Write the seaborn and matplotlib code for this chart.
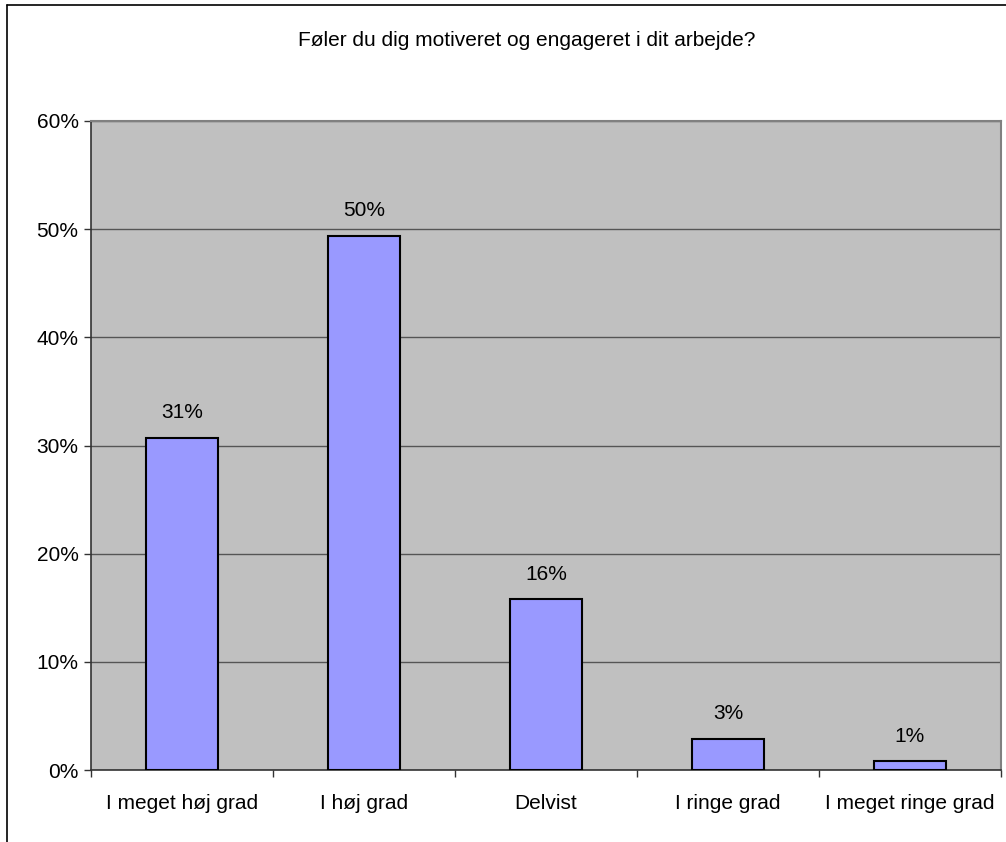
import matplotlib
matplotlib.use("Agg")
import matplotlib.pyplot as plt
import seaborn as sns
import pandas as pd
from matplotlib.ticker import PercentFormatter, FixedLocator
from matplotlib.lines import Line2D

categories = ["I meget høj grad", "I høj grad", "Delvist", "I ringe grad", "I meget ringe grad"]
values = [0.307, 0.494, 0.158, 0.029, 0.008]
labels = ["31%", "50%", "16%", "3%", "1%"]
title = "Føler du dig motiveret og engageret i dit arbejde?"

sns.set_theme(style="white")
plt.rcParams['font.family'] = ['Liberation Sans', 'DejaVu Sans']
plt.rcParams['text.color'] = 'black'
plt.rcParams['xtick.color'] = 'black'
plt.rcParams['ytick.color'] = 'black'

W, H = 1006, 842
fig = plt.figure(figsize=(W / 100, H / 100), dpi=100)
ax = fig.add_axes([91 / W, 1 - 770 / H, (1001 - 91) / W, (770 - 121) / H])
ax.set_facecolor("#C0C0C0")

df = pd.DataFrame({"cat": categories, "val": values})
sns.barplot(data=df, x="cat", y="val", color="#9999FF", saturation=1,
            edgecolor="black", linewidth=1.5, width=0.4, ax=ax, zorder=3)

ax.set_xlim(-0.5, len(categories) - 0.5)
ax.set_ylim(0, 0.6)
ax.yaxis.set_major_locator(FixedLocator([0, 0.1, 0.2, 0.3, 0.4, 0.5, 0.6]))
ax.yaxis.set_major_formatter(PercentFormatter(1.0, decimals=0))
ax.grid(axis="y", color="#555555", linewidth=1, zorder=1)
ax.set_axisbelow(True)
ax.set_xlabel("")
ax.set_ylabel("")

for s in ["top", "right"]:
    ax.spines[s].set_color("#808080")
    ax.spines[s].set_linewidth(1.5)
for s in ["left", "bottom"]:
    ax.spines[s].set_color("#333333")
    ax.spines[s].set_linewidth(1.2)

FS = 15
ax.tick_params(axis="y", direction="out", length=5, width=1, color="#333333",
               labelsize=FS, labelcolor="black", pad=4, left=True)
ax.tick_params(axis="x", length=0, labelsize=FS, labelcolor="black", pad=17)
ax.set_xticks([i - 0.5 for i in range(len(categories) + 1)], minor=True)
ax.tick_params(axis="x", which="minor", direction="out", length=5, width=1,
               color="#333333", bottom=True)

for i, (v, lab) in enumerate(zip(values, labels)):
    ax.annotate(lab, (i, v), xytext=(0, 18), textcoords="offset points",
                ha="center", va="center", fontsize=FS, color="black")

fig.text(527 / W, 1 - 40 / H, title, ha="center", va="center", fontsize=FS, color="black")

fig.add_artist(Line2D([7 / W, 7 / W], [0, 1 - 5 / H], transform=fig.transFigure,
                      color="black", linewidth=1.2))
fig.add_artist(Line2D([7 / W, 1], [1 - 5 / H, 1 - 5 / H], transform=fig.transFigure,
                      color="black", linewidth=1.2))

fig.savefig("out.png", dpi=100)
